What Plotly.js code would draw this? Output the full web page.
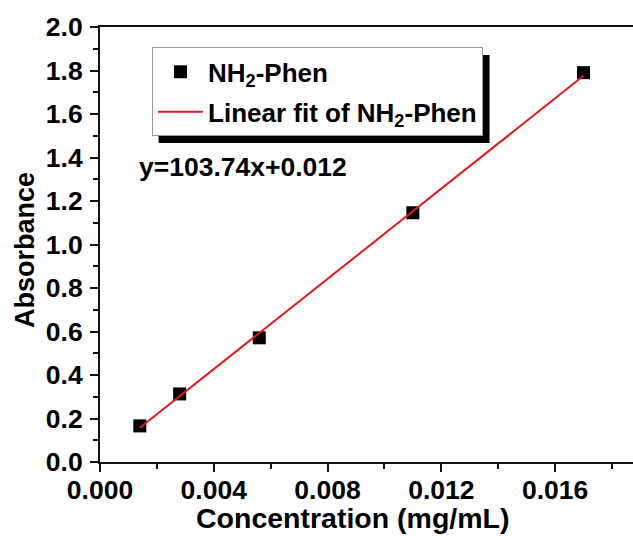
<!DOCTYPE html>
<html>
<head>
<meta charset="utf-8">
<script src="https://cdn.plot.ly/plotly-3.0.1.min.js"></script>
<style>
  html, body { margin: 0; padding: 0; background: #fff; }
  #chart { width: 633px; height: 536px; }
</style>
</head>
<body>
<div id="chart"></div>
<script>
// Calibration points: concentration (mg/mL) vs absorbance
const concentration = [0.0014, 0.0028, 0.0056, 0.011, 0.017];
const absorbance = [0.166, 0.313, 0.571, 1.146, 1.790];

// Linear fit, y = slope * x + intercept
const fitSlope = 103.74;
const fitIntercept = 0.012;
const fitX = [0.0014, 0.017];
const fitY = fitX.map(x => fitSlope * x + fitIntercept);

// Axis ticks
const xTickVals = [0, 0.004, 0.008, 0.012, 0.016];
const xTickText = ['0.000', '0.004', '0.008', '0.012', '0.016'];
const xMinorVals = [0.002, 0.006, 0.010, 0.014, 0.018];
const yTickVals = [0, 0.2, 0.4, 0.6, 0.8, 1.0, 1.2, 1.4, 1.6, 1.8, 2.0];
const yTickText = ['0.0', '0.2', '0.4', '0.6', '0.8', '1.0', '1.2', '1.4', '1.6', '1.8', '2.0'];
const yMinorVals = [0.1, 0.3, 0.5, 0.7, 0.9, 1.1, 1.3, 1.5, 1.7, 1.9];

const seriesName = 'NH<sub>2</sub>-Phen';
const fitName = 'Linear fit of NH<sub>2</sub>-Phen';
const equationText = 'y=' + fitSlope + 'x+' + fitIntercept;

const FONT = 'Arial, "Liberation Sans", sans-serif';
const INK = '#111';

const traces = [
  {
    x: concentration, y: absorbance,
    type: 'scatter', mode: 'markers', name: seriesName,
    legendgroup: 'a',
    marker: { symbol: 'square', size: 13, color: '#000' }
  },
  {
    x: fitX, y: fitY,
    type: 'scatter', mode: 'lines', name: fitName,
    legendgroup: 'b',
    line: { color: '#e3191c', width: 2 }
  }
];

const axisCommon = {
  ticks: 'outside', ticklen: 8, tickwidth: 2, tickcolor: INK,
  showline: true, linecolor: INK, linewidth: 2,
  showgrid: false, zeroline: false,
  tickfont: { family: FONT, size: 26.5, color: '#000', weight: 'bold' }
};

const layout = {
  width: 633, height: 536,
  margin: { l: 100, r: 0, t: 27, b: 74 },
  paper_bgcolor: '#fff', plot_bgcolor: '#fff',
  showlegend: true,
  xaxis: Object.assign({}, axisCommon, {
    range: [0, 0.01874],
    tickmode: 'array', tickvals: xTickVals, ticktext: xTickText,
    mirror: true,
    ticklabelstandoff: -5,
    minor: { tickmode: 'array', tickvals: xMinorVals, ticks: 'outside', ticklen: 5, tickwidth: 2, tickcolor: INK, showgrid: false }
  }),
  yaxis: Object.assign({}, axisCommon, {
    range: [0, 2.0],
    tickmode: 'array', tickvals: yTickVals, ticktext: yTickText,
    ticklabelstandoff: 2,
    minor: { tickmode: 'array', tickvals: yMinorVals, ticks: 'outside', ticklen: 5, tickwidth: 2, tickcolor: INK, showgrid: false }
  }),
  legend: {
    x: 0.0976, y: 0.953, xanchor: 'left', yanchor: 'top',
    bgcolor: '#fff', bordercolor: '#999', borderwidth: 1,
    font: { family: FONT, size: 26, color: '#000', weight: 'bold' },
    itemwidth: 45, traceorder: 'grouped', tracegroupgap: 3
  },
  annotations: [
    {
      text: equationText, xref: 'paper', yref: 'paper',
      x: 0.0694, y: 0.678, xanchor: 'left', yanchor: 'middle', showarrow: false,
      font: { family: FONT, size: 26.5, color: '#000', weight: 'bold' }
    },
    {
      text: 'Concentration (mg/mL)', xref: 'paper', yref: 'paper',
      x: 0.4756, y: -0.128, xanchor: 'center', yanchor: 'middle', showarrow: false,
      font: { family: FONT, size: 28.5, color: '#000', weight: 'bold' }
    },
    {
      text: 'Absorbance', xref: 'paper', yref: 'paper', textangle: -90,
      x: -0.141, y: 0.487, xanchor: 'center', yanchor: 'middle', showarrow: false,
      font: { family: FONT, size: 27, color: '#000', weight: 'bold' }
    }
  ]
};

const gd = document.getElementById('chart');
Plotly.newPlot(gd, traces, layout, { displayModeBar: false, staticPlot: true }).then(() => {
  // Drop shadow behind the legend box
  const bg = gd.querySelector('.legend .bg');
  if (!bg) return;
  const rb = bg.getBoundingClientRect();
  const rg = gd.getBoundingClientRect();
  const s = gd._fullLayout._size;
  const toX = px => (px - rg.left - s.l) / s.w;
  const toY = py => 1 - (py - rg.top - s.t) / s.h;
  const off = 7;
  return Plotly.relayout(gd, {
    shapes: [{
      type: 'rect', xref: 'paper', yref: 'paper', layer: 'above',
      x0: toX(rb.left + off - 1), x1: toX(rb.right + off),
      y0: toY(rb.top + off), y1: toY(rb.bottom + off),
      fillcolor: '#000', line: { width: 0 }
    }]
  });
});
</script>
</body>
</html>
